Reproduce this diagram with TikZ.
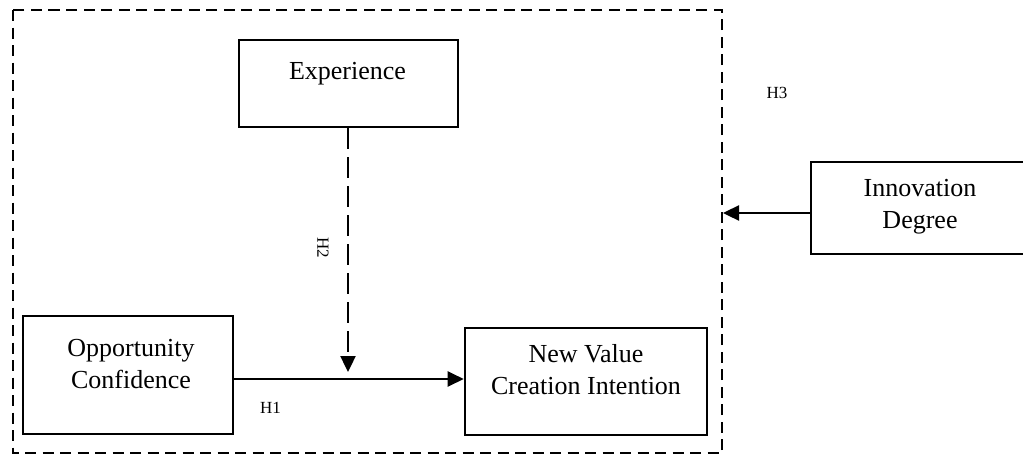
\documentclass[tikz,border=0pt]{standalone}
\usepackage{fontspec}
\setmainfont{Liberation Serif}
\usetikzlibrary{arrows.meta}
\tikzset{
  box/.style={draw, line width=2.6pt, inner sep=0pt},
  boxtext/.style={align=center, inner sep=0pt, font=\fontsize{26}{32}\selectfont},
  lbl/.style={font=\fontsize{17}{20}\selectfont, inner sep=0pt},
  link/.style={line width=2.4pt, -{Triangle[length=16pt,width=15pt]}},
  frame/.style={line width=2.6pt, dash pattern=on 11pt off 6.5pt},
}
\begin{document}
\begin{tikzpicture}[x=1pt,y=-1pt]
\useasboundingbox (0,0) rectangle (1023,458);
% outer dashed frame
\draw[frame] (13,10) rectangle (722,453);
% construct boxes
\node[box, minimum width=219pt, minimum height=87pt] (exp) at (348.5,83.5) {};
\node[box, minimum width=210pt, minimum height=118pt] (opp) at (128,375) {};
\node[box, minimum width=242pt, minimum height=107pt] (nvc) at (586,381.5) {};
\node[box, minimum width=217pt, minimum height=92pt] (inn) at (919.5,208) {};
% box texts
\node[boxtext] (expT) at (347.5,74) {Experience};
\node[boxtext] (oppT) at (131,364) {Opportunity\\Confidence};
\node[boxtext] (nvcT) at (586,370) {New Value\\Creation Intention};
\node[boxtext] (innT) at (920,207) {Innovation\\Degree};
% hypothesised links
\coordinate (mod) at (348,379);
\draw[link] (opp.east |- mod) -- (nvc.west |- mod);
\draw[link, dash pattern=on 21pt off 8pt] (exp.south -| mod) -- ([yshift=7pt]mod);
\coordinate (fr) at (723,213);
\draw[link] (inn.west |- fr) -- (fr);
% labels
\node[lbl] (h1) at (270.5,408) {H1};
\node[lbl, rotate=-90] (h2) at (323,248) {H2};
\node[lbl] (h3) at (777,93) {H3};
\end{tikzpicture}
\end{document}
